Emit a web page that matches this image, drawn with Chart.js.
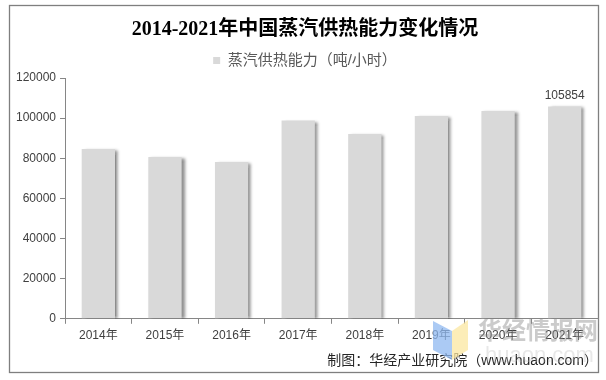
<!DOCTYPE html>
<html>
<head>
<meta charset="utf-8">
<script src="https://cdn.jsdelivr.net/npm/chart.js@4"></script>
<style>
html,body{margin:0;padding:0;background:#fff;}
#wrap{width:606px;height:380px;position:relative;}
</style>
</head>
<body>
<div id="wrap"><canvas id="c" width="606" height="380"></canvas></div>
<script>
const categories = ['2014年','2015年','2016年','2017年','2018年','2019年','2020年','2021年'];
const steamCapacity = [84600, 80600, 78100, 98800, 92100, 101100, 103600, 105854];
const seriesName = '蒸汽供热能力（吨/小时）';
const titleText = '2014-2021年中国蒸汽供热能力变化情况';
const footerText = '制图：华经产业研究院（www.huaon.com）';
const labelledIndex = [7];

const frame = {
  id: 'frame',
  beforeDraw(chart) {
    const ctx = chart.ctx;
    ctx.save();
    ctx.fillStyle = '#fff';
    ctx.fillRect(0, 0, chart.width, chart.height);
    ctx.strokeStyle = '#7f7f7f';
    ctx.lineWidth = 1.3;
    ctx.strokeRect(9.5, 5.5, 589, 367);
    ctx.restore();
  }
};

const shadow = {
  id: 'shadow',
  beforeDatasetsDraw(chart) {
    const ctx = chart.ctx;
    ctx.save();
    ctx.shadowColor = 'rgba(0,0,0,0.45)';
    ctx.shadowOffsetX = 3;
    ctx.shadowOffsetY = 1;
    ctx.shadowBlur = 3;
  },
  afterDatasetsDraw(chart) {
    chart.ctx.restore();
  }
};

const valueLabels = {
  id: 'valueLabels',
  afterDatasetsDraw(chart) {
    const ctx = chart.ctx;
    const meta = chart.getDatasetMeta(0);
    ctx.save();
    ctx.font = '12px "Liberation Sans", Arial, sans-serif';
    ctx.fillStyle = '#404040';
    ctx.textAlign = 'center';
    ctx.textBaseline = 'bottom';
    labelledIndex.forEach(i => {
      const el = meta.data[i];
      ctx.fillText(String(steamCapacity[i]), el.x, el.y - 5);
    });
    ctx.restore();
  }
};

const watermark = {
  id: 'watermark',
  afterDraw(chart) {
    const ctx = chart.ctx;
    ctx.save();
    ctx.globalAlpha = 0.75;
    ctx.fillStyle = '#8fb8f0';
    ctx.beginPath();
    ctx.moveTo(433, 321); ctx.lineTo(452, 331); ctx.lineTo(452, 360); ctx.lineTo(433, 350); ctx.closePath();
    ctx.fill();
    ctx.fillStyle = '#fbe7a0';
    ctx.beginPath();
    ctx.moveTo(452, 331); ctx.lineTo(468, 320); ctx.lineTo(468, 350); ctx.lineTo(452, 360); ctx.closePath();
    ctx.fill();
    ctx.globalAlpha = 1;
    ctx.fillStyle = 'rgba(140,140,140,0.45)';
    ctx.font = 'bold 24px "Noto Sans CJK SC", sans-serif';
    ctx.textAlign = 'left';
    ctx.textBaseline = 'middle';
    ctx.fillText('华经情报网', 478, 330);
    ctx.fillStyle = 'rgba(190,190,190,0.35)';
    ctx.font = '22px "Liberation Sans", Arial, sans-serif';
    ctx.fillText('huaon.com', 485, 356);
    ctx.restore();
  }
};

new Chart(document.getElementById('c'), {
  type: 'bar',
  data: {
    labels: categories,
    datasets: [{
      label: seriesName,
      data: steamCapacity,
      backgroundColor: '#d9d9d9',
      borderWidth: 0,
      categoryPercentage: 1,
      barPercentage: 0.5
    }]
  },
  options: {
    responsive: false,
    animation: false,
    devicePixelRatio: 1,
    layout: { padding: { top: 13, left: 12, right: 8, bottom: 8 } },
    plugins: {
      tooltip: { enabled: false },
      title: {
        display: true,
        text: titleText,
        color: '#000',
        font: { family: '"Liberation Serif", "Noto Sans CJK SC", serif', size: 20, weight: 'bold', lineHeight: 1.2 },
        padding: { top: 5, bottom: 3 }
      },
      legend: {
        display: true,
        position: 'top',
        labels: {
          boxWidth: 7,
          boxHeight: 7,
          color: '#595959',
          padding: 8,
          font: { family: '"Liberation Sans", "Noto Sans CJK SC", sans-serif', size: 15 }
        }
      },
      subtitle: {
        display: true,
        position: 'bottom',
        align: 'end',
        text: footerText,
        color: '#262626',
        font: { family: '"Liberation Sans", "Noto Sans CJK SC", sans-serif', size: 14 },
        padding: { top: 5, bottom: 2 }
      }
    },
    scales: {
      x: {
        offset: true,
        grid: { display: true, drawOnChartArea: false, drawTicks: true, tickLength: 5, color: '#868686', offset: true },
        border: { display: true, color: '#868686', width: 1 },
        ticks: {
          color: '#404040',
          padding: 5,
          maxRotation: 0,
          font: { family: '"Liberation Sans", "Noto Sans CJK SC", sans-serif', size: 12 }
        }
      },
      y: {
        min: 0,
        max: 120000,
        grid: { display: true, drawOnChartArea: false, drawTicks: true, tickLength: 5, color: '#868686' },
        border: { display: true, color: '#868686', width: 1 },
        ticks: {
          stepSize: 20000,
          color: '#404040',
          padding: 4,
          callback: v => String(v),
          font: { family: '"Liberation Sans", Arial, sans-serif', size: 12 }
        }
      }
    }
  },
  plugins: [frame, shadow, valueLabels, watermark]
});
</script>
</body>
</html>
